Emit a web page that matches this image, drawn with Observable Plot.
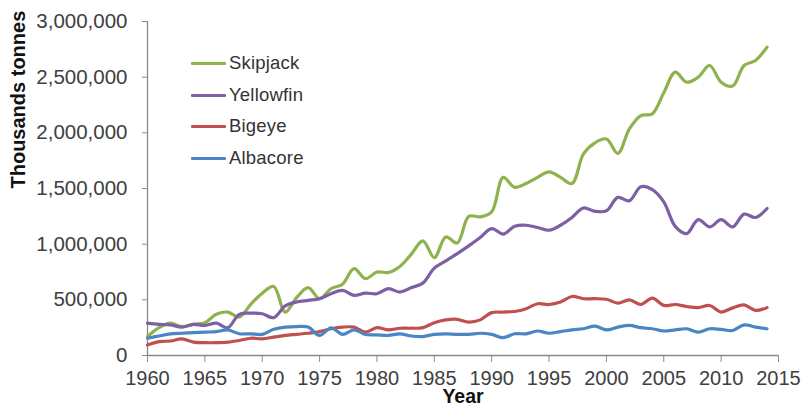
<!DOCTYPE html>
<html>
<head>
<meta charset="utf-8">
<script src="https://cdn.jsdelivr.net/npm/d3@7"></script>
<script src="https://cdn.jsdelivr.net/npm/@observablehq/plot@0.6"></script>
<style>
  html, body { margin: 0; padding: 0; background: #fff; }
  #wrap { position: relative; width: 803px; height: 412px; font-family: "Liberation Sans", Arial, sans-serif; }
  #legend { position: absolute; left: 0; top: 0; }
  .row { position: absolute; display: flex; align-items: center; font-size: 18.5px; color: #333; white-space: nowrap; letter-spacing: 0.2px; }
  .sw { display: inline-block; width: 35px; height: 3px; margin-right: 3px; border-radius: 1px; }
</style>
</head>
<body>
<div id="wrap"><div id="chart"></div><div id="legend"></div></div>
<script>
const years = d3.range(1960, 2015);
const seriesNames = ["Skipjack", "Yellowfin", "Bigeye", "Albacore"];
const seriesColors = ["#8db24e", "#7d5fa6", "#c0504d", "#4a85c4"];

const skipjack = [170000, 250000, 290000, 260000, 280000, 295000, 370000, 390000, 345000, 460000,
  560000, 620000, 390000, 520000, 610000, 510000, 600000, 640000, 780000, 690000,
  750000, 745000, 800000, 910000, 1030000, 880000, 1065000, 1010000, 1250000, 1245000,
  1290000, 1600000, 1510000, 1545000, 1600000, 1650000, 1600000, 1545000, 1810000, 1910000,
  1945000, 1815000, 2035000, 2155000, 2170000, 2360000, 2545000, 2455000, 2500000, 2605000,
  2455000, 2420000, 2605000, 2650000, 2770000];
const yellowfin = [290000, 280000, 275000, 255000, 280000, 270000, 290000, 250000, 370000, 380000,
  375000, 340000, 445000, 480000, 495000, 510000, 555000, 585000, 540000, 560000,
  555000, 600000, 570000, 610000, 650000, 785000, 850000, 915000, 985000, 1060000,
  1140000, 1090000, 1160000, 1170000, 1150000, 1125000, 1170000, 1240000, 1325000, 1295000,
  1300000, 1420000, 1390000, 1515000, 1490000, 1380000, 1160000, 1095000, 1220000, 1155000,
  1220000, 1155000, 1270000, 1240000, 1320000];
const bigeye = [95000, 125000, 130000, 150000, 120000, 115000, 115000, 120000, 135000, 155000,
  150000, 165000, 180000, 190000, 200000, 215000, 240000, 255000, 255000, 210000,
  250000, 230000, 245000, 245000, 250000, 295000, 320000, 325000, 300000, 320000,
  385000, 390000, 395000, 420000, 465000, 458000, 480000, 530000, 510000, 510000,
  505000, 470000, 500000, 458000, 515000, 450000, 458000, 440000, 430000, 449000,
  390000, 428000, 455000, 405000, 430000];
const albacore = [155000, 175000, 195000, 200000, 205000, 210000, 215000, 230000, 195000, 195000,
  190000, 235000, 255000, 260000, 255000, 180000, 249000, 190000, 231000, 189000,
  185000, 180000, 195000, 175000, 170000, 190000, 195000, 190000, 190000, 200000,
  190000, 160000, 195000, 195000, 220000, 200000, 215000, 230000, 240000, 264000,
  230000, 255000, 270000, 250000, 240000, 220000, 230000, 240000, 210000, 240000,
  235000, 225000, 275000, 255000, 240000];
const yTicks = [0, 500000, 1000000, 1500000, 2000000, 2500000, 3000000];
const xTicks = [1960, 1965, 1970, 1975, 1980, 1985, 1990, 1995, 2000, 2005, 2010, 2015];

const seriesValues = [skipjack, yellowfin, bigeye, albacore];
const rows = seriesNames.flatMap((name, i) =>
  years.map((year, j) => ({series: name, year, value: seriesValues[i][j]})));

const chart = Plot.plot({
  width: 803,
  height: 412,
  marginLeft: 147,
  marginRight: 25,
  marginTop: 21,
  marginBottom: 57,
  style: {fontFamily: "'Liberation Sans', Arial, sans-serif", background: "#fff"},
  x: {domain: [1960, 2015]},
  y: {domain: [0, 3000000]},
  color: {domain: seriesNames, range: seriesColors},
  marks: [
    Plot.ruleX([1960], {stroke: "#8a8a8a", strokeWidth: 1.3}),
    Plot.ruleY([0], {stroke: "#8a8a8a", strokeWidth: 1.3}),
    Plot.axisY({ticks: yTicks, tickFormat: d3.format(","), tickSize: 5, tickPadding: 15,
      stroke: "#8a8a8a", color: "#404040", fontSize: 20.5, label: null}),
    Plot.axisX({ticks: xTicks, tickFormat: d => String(d), tickSize: 7, tickPadding: 8,
      stroke: "#8a8a8a", color: "#404040", fontSize: 20, label: null}),
    Plot.line(rows, {x: "year", y: "value", z: "series", stroke: "series",
      strokeWidth: 3.2, curve: "catmull-rom"}),
    Plot.text(["Thousands tonnes"], {frameAnchor: "left", rotate: -90, dx: -129,
      fontSize: 20, fontWeight: "bold", fill: "#111"}),
    Plot.text(["Year"], {frameAnchor: "bottom", dy: 47, fontSize: 19.5, fontWeight: "bold", fill: "#111"})
  ]
});
document.getElementById("chart").appendChild(chart);

const legendTops = [63, 95, 126, 158];
const legend = document.getElementById("legend");
seriesNames.forEach((name, i) => {
  const row = document.createElement("div");
  row.className = "row";
  row.style.left = "191px";
  row.style.top = (legendTops[i] - 11) + "px";
  row.style.height = "22px";
  const sw = document.createElement("span");
  sw.className = "sw";
  sw.style.background = seriesColors[i];
  const label = document.createElement("span");
  label.textContent = name;
  row.appendChild(sw);
  row.appendChild(label);
  legend.appendChild(row);
});
</script>
</body>
</html>
